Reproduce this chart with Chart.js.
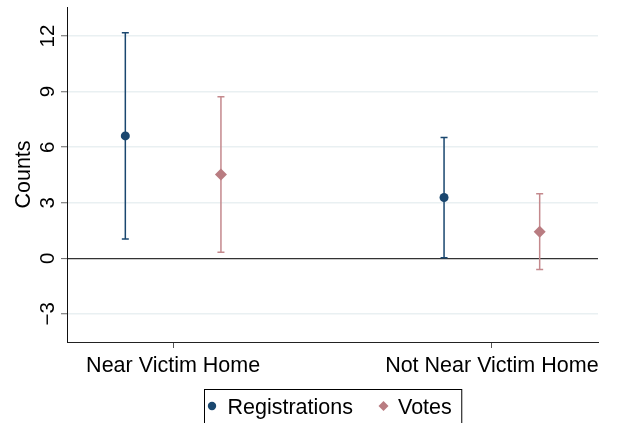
<!DOCTYPE html>
<html>
<head>
<meta charset="utf-8">
<script src="https://cdn.jsdelivr.net/npm/chart.js@4.4.1/dist/chart.umd.min.js"></script>
<style>
  html, body { margin: 0; padding: 0; background: #fff; }
  #wrap { width: 620px; height: 423px; }
</style>
</head>
<body>
<div id="wrap"><canvas id="chart"></canvas></div>
<script>
// Data
const categories = ['Near Victim Home', 'Not Near Victim Home'];
const seriesNames = ['Registrations', 'Votes'];
const regEstimate = [6.61, 3.28];
const regLower = [1.04, 0.03];
const regUpper = [12.18, 6.52];
const voteEstimate = [4.52, 1.44];
const voteLower = [0.32, -0.60];
const voteUpper = [8.72, 3.49];
const yTicks = [-3, 0, 3, 6, 9, 12];

const FONT = "'Liberation Sans', Arial, Helvetica, sans-serif";
const NAVY = '#1a476f';
const PINK = '#b97c81';
const PINK_BAR = '#c4898d';
const SHIFT = 0.15; // horizontal dodge of the two series inside a category

function fmtTick(v) {
    return v < 0 ? '\u2212' + Math.abs(v) : String(v);
}

// white page behind the chart
const whiteBg = {
    id: 'whiteBg',
    beforeDraw(chart) {
        const ctx = chart.ctx;
        ctx.save();
        ctx.fillStyle = '#fff';
        ctx.fillRect(0, 0, chart.width, chart.height);
        ctx.restore();
    }
};

// confidence intervals, drawn under the markers
const errorBars = {
    id: 'errorBars',
    beforeDatasetsDraw(chart) {
        const ctx = chart.ctx;
        const xs = chart.scales.x, ys = chart.scales.y;
        chart.data.datasets.forEach(ds => {
            ctx.save();
            ctx.strokeStyle = ds.barColor;
            ctx.lineWidth = 1.5;
            ds.data.forEach((pt, i) => {
                const x = xs.getPixelForValue(pt.x);
                const yl = ys.getPixelForValue(ds.lower[i]);
                const yh = ys.getPixelForValue(ds.upper[i]);
                ctx.beginPath();
                ctx.moveTo(x, yl); ctx.lineTo(x, yh);
                ctx.moveTo(x - 3.5, yl); ctx.lineTo(x + 3.5, yl);
                ctx.moveTo(x - 3.5, yh); ctx.lineTo(x + 3.5, yh);
                ctx.stroke();
            });
            ctx.restore();
        });
    }
};

// vertical y tick labels, Stata style
const yTickLabels = {
    id: 'yTickLabels',
    afterDraw(chart) {
        const ctx = chart.ctx;
        const ys = chart.scales.y;
        ctx.save();
        ctx.fillStyle = '#000';
        ctx.font = '20.5px ' + FONT;
        ctx.textAlign = 'center';
        ctx.textBaseline = 'alphabetic';
        yTicks.forEach(v => {
            ctx.save();
            ctx.translate(54, ys.getPixelForValue(v));
            ctx.rotate(-Math.PI / 2);
            ctx.fillText(fmtTick(v), 0, 0);
            ctx.restore();
        });
        ctx.restore();
    }
};

// boxed legend under the axis labels
const boxLegend = {
    id: 'boxLegend',
    afterDraw(chart) {
        const ctx = chart.ctx;
        const area = chart.chartArea;
        ctx.save();
        ctx.font = '21.5px ' + FONT;
        const w1 = ctx.measureText(seriesNames[0]).width;
        const w2 = ctx.measureText(seriesNames[1]).width;
        const boxW = 78 + w1 + w2;
        const left = Math.round((area.left + area.right) / 2 - boxW / 2) + 0.5;
        const top = 389.5;
        ctx.strokeStyle = '#000';
        ctx.lineWidth = 1;
        ctx.strokeRect(left, top, boxW, 40);

        const baseY = 414;
        const markY = 406;
        // registrations marker
        ctx.fillStyle = NAVY;
        ctx.beginPath();
        ctx.arc(left + 7.5, markY, 4.2, 0, Math.PI * 2);
        ctx.fill();
        ctx.fillStyle = '#000';
        ctx.textBaseline = 'alphabetic';
        ctx.fillText(seriesNames[0], left + 23, baseY);
        // votes marker
        const m2 = left + 23 + w1 + 30.5;
        ctx.fillStyle = PINK;
        ctx.beginPath();
        ctx.moveTo(m2, markY - 5); ctx.lineTo(m2 + 5, markY);
        ctx.lineTo(m2, markY + 5); ctx.lineTo(m2 - 5, markY);
        ctx.closePath();
        ctx.fill();
        ctx.fillStyle = '#000';
        ctx.fillText(seriesNames[1], m2 + 14.5, baseY);
        ctx.restore();
    }
};

const datasets = [
    {
        label: seriesNames[0],
        data: regEstimate.map((v, i) => ({ x: i + 1 - SHIFT, y: v })),
        lower: regLower,
        upper: regUpper,
        backgroundColor: NAVY,
        barColor: NAVY,
        pointStyle: 'circle',
        pointRadius: 4.5,
        pointHoverRadius: 4.5,
        pointBorderWidth: 0
    },
    {
        label: seriesNames[1],
        data: voteEstimate.map((v, i) => ({ x: i + 1 + SHIFT, y: v })),
        lower: voteLower,
        upper: voteUpper,
        backgroundColor: PINK,
        barColor: PINK_BAR,
        pointStyle: 'rectRot',
        pointRadius: 6,
        pointHoverRadius: 6,
        pointBorderWidth: 0
    }
];

new Chart(document.getElementById('chart'), {
    type: 'scatter',
    data: { datasets },
    options: {
        responsive: true,
        maintainAspectRatio: false,
        animation: false,
        layout: { padding: { top: 7, right: 22, left: 0, bottom: 0 } },
        plugins: {
            legend: { display: false },
            tooltip: { enabled: false }
        },
        scales: {
            x: {
                type: 'linear',
                min: 0.667,
                max: 2.333,
                afterFit: s => { s.height = 81; },
                afterBuildTicks: s => { s.ticks = categories.map((c, i) => ({ value: i + 1 })); },
                grid: {
                    drawOnChartArea: false,
                    drawTicks: true,
                    tickLength: 6,
                    tickColor: '#555',
                    tickWidth: 1
                },
                border: { display: true, color: '#222', width: 1 },
                ticks: {
                    autoSkip: false,
                    maxRotation: 0,
                    padding: 5,
                    color: '#000',
                    font: { family: FONT, size: 21.5 },
                    callback: v => categories[Math.round(v) - 1]
                }
            },
            y: {
                min: -4.52,
                max: 13.57,
                afterFit: s => { s.width = 67; },
                afterBuildTicks: s => { s.ticks = yTicks.map(v => ({ value: v })); },
                grid: {
                    color: c => (c.tick && c.tick.value === 0) ? '#333' : '#e9f0f2',
                    lineWidth: c => (c.tick && c.tick.value === 0) ? 1.2 : 1.5,
                    drawTicks: true,
                    tickLength: 6,
                    tickColor: '#666',
                    tickWidth: 1
                },
                border: { display: true, color: '#111', width: 1 },
                ticks: { display: false },
                title: {
                    display: true,
                    text: 'Counts',
                    color: '#000',
                    font: { family: FONT, size: 21.5 },
                    padding: { top: 11, bottom: 0 }
                }
            }
        }
    },
    plugins: [whiteBg, errorBars, yTickLabels, boxLegend]
});
</script>
</body>
</html>
